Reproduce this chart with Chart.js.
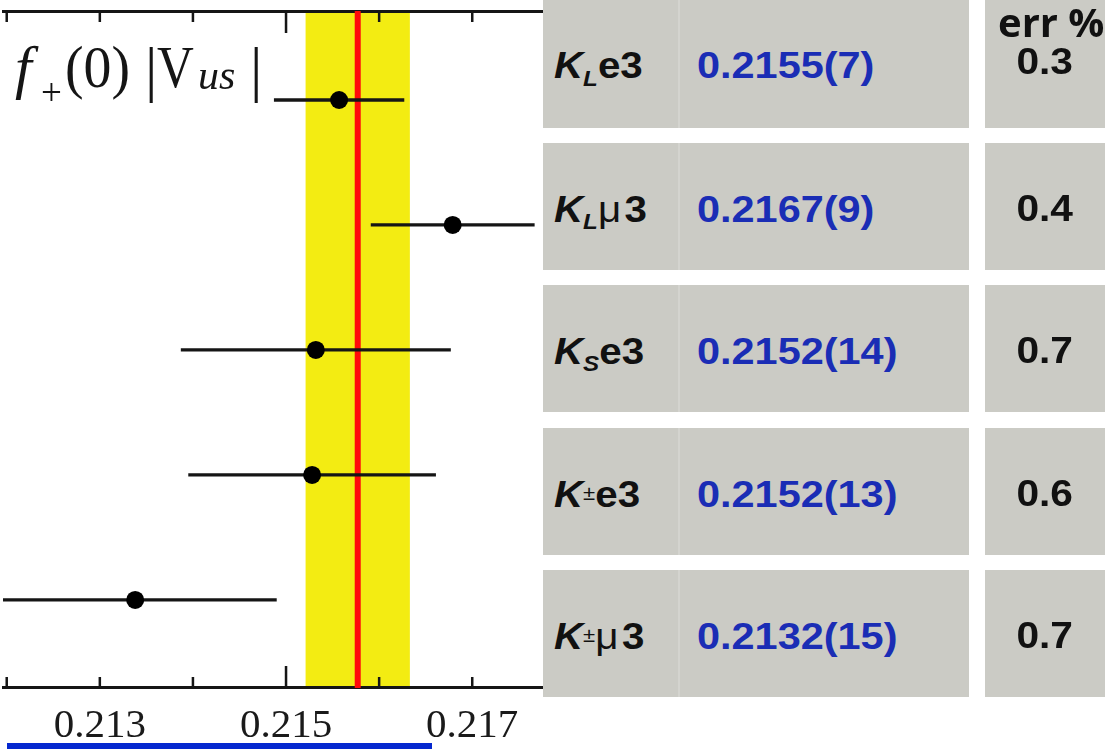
<!DOCTYPE html>
<html>
<head>
<meta charset="utf-8">
<script src="https://cdn.jsdelivr.net/npm/chart.js@4.4.1/dist/chart.umd.min.js"></script>
<style>
html,body{margin:0;padding:0;background:#fff;overflow:hidden;width:1105px;height:749px}
#wrap{position:relative;width:1105px;height:749px;overflow:hidden;background:#fff}
#c{position:absolute;left:0;top:0}
.yl{position:absolute;font-family:'Liberation Serif',serif;line-height:1;color:#151515;white-space:nowrap;transform-origin:left top}
.box{position:absolute;background:#cbcbc5}
.div{position:absolute;background:#d4d4cf;width:2px}
.cell{position:absolute;display:flex;align-items:center;font-family:'Liberation Sans',Arial,sans-serif;font-weight:bold;white-space:nowrap}
.lab{font-size:36px;color:#111;transform:scaleX(1.12);transform-origin:left center;display:inline-block}
.lab .sb{font-size:0.6em;position:relative;top:0.35em;font-style:italic}
.lab .sp{font-size:0.55em;position:relative;top:-0.35em;font-weight:normal}
.lab .mu{font-weight:normal;margin-right:3px}
.val{font-size:37px;color:#1a2db5;transform:scaleX(1.12);transform-origin:left center;display:inline-block}
.err{font-size:37px;color:#111;transform:scaleX(1.1);transform-origin:center center;display:inline-block}
.hdr{position:absolute;left:998px;top:2px;font-family:'Open Sans',sans-serif;font-weight:700;font-size:40px;line-height:1;color:#111;white-space:nowrap}
.uline{position:absolute;left:7px;top:743px;width:425px;height:6px;background:#0528cf}
</style>
</head>
<body>
<div id="wrap">
<canvas id="c" width="545" height="800"></canvas>
<div id="ylab"></div>
<div id="table"></div>
<div class="hdr">err %</div>
<div class="uline"></div>
</div>
<script>
// ---- data ----
const channelSubs   = ['L', 'L', 'S', '', ''];
const channelSups   = ['', '', '', '±', '±'];
const channelTails  = ['e', 'μ', 'e', 'e', 'μ'];
const centralValues = [0.21557, 0.21679, 0.21532, 0.21528, 0.21338];
const halfErrors    = [0.00070, 0.00088, 0.00145, 0.00133, 0.00152];
const rowPositions  = [5, 4, 3, 2, 1];
const averageValue  = 0.21577;
const averageError  = 0.00056;
const tableValues   = ['0.2155(7)', '0.2167(9)', '0.2152(14)', '0.2152(13)', '0.2132(15)'];
const tableErrPct   = ['0.3', '0.4', '0.7', '0.6', '0.7'];
const labeledTicks  = ['0.213', '0.215', '0.217'];
const longTickValue = 0.215;

// ---- axis ranges ----
const xMin = 0.21196, xMax = 0.21776, xStep = 0.001;
const yMin = 0.296, yMax = 5.712;

// ---- y-axis title f+(0)|Vus| as positioned text pieces ----
const titlePieces = [
  {t: 'f', x: 15, base: 87, size: 60, it: true, sx: 1.0},
  {t: '+', x: 41, base: 105, size: 37, it: false, sx: 1.0},
  {t: '(0)', x: 65, base: 87, size: 60, it: false, sx: 0.93},
  {t: '|', x: 145, base: 90, size: 62, it: false, sx: 1.0},
  {t: 'V', x: 157, base: 87, size: 60, it: false, sx: 0.85},
  {t: 'us', x: 198, base: 89, size: 42, it: true, sx: 1.0},
  {t: '|', x: 250, base: 90, size: 62, it: false, sx: 1.0}
];
document.getElementById('ylab').innerHTML = titlePieces.map(p =>
  `<span class="yl" style="left:${p.x}px;top:${(p.base - 0.8375 * p.size).toFixed(1)}px;font-size:${p.size}px;${p.it ? 'font-style:italic;' : ''}transform:scaleX(${p.sx})">${p.t}</span>`
).join('');

// ---- table (text) ----
const rowTops = [0, 143, 285, 428, 570];
const rowHeights = [128, 127, 127, 127, 127];
let html = '';
for (let i = 0; i < tableValues.length; i++) {
  const t = rowTops[i], h = rowHeights[i];
  const off = (i === 0) ? 2 : 3;
  html += `<div class="box" style="left:543px;top:${t}px;width:426px;height:${h}px"></div>`;
  html += `<div class="div" style="left:678px;top:${t}px;height:${h}px"></div>`;
  html += `<div class="box" style="left:985px;top:${t}px;width:120px;height:${h}px"></div>`;
  let lab = '<i>K</i>';
  if (channelSubs[i]) lab += `<span class="sb">${channelSubs[i]}</span>`;
  if (channelSups[i]) lab += `<span class="sp">${channelSups[i]}</span>`;
  lab += channelTails[i] === 'μ' ? '<span class="mu">μ</span>3' : 'e3';
  html += `<div class="cell" style="left:554px;top:${t + off}px;height:${h}px"><span class="lab">${lab}</span></div>`;
  html += `<div class="cell" style="left:697px;top:${t + off}px;height:${h}px"><span class="val">${tableValues[i]}</span></div>`;
  const eoff = (i === 0) ? -2 : 2;
  html += `<div class="cell" style="left:985px;width:120px;justify-content:center;top:${t + eoff}px;height:${h}px"><span class="err">${tableErrPct[i]}</span></div>`;
}
document.getElementById('table').innerHTML = html;

// ---- chart ----
const bandPlugin = {
  id: 'band',
  beforeDraw(chart) {
    const {ctx, chartArea: a, scales: {x}} = chart;
    const x1 = x.getPixelForValue(averageValue - averageError);
    const x2 = x.getPixelForValue(averageValue + averageError);
    ctx.save();
    ctx.fillStyle = '#f3ec12';
    ctx.fillRect(x1, a.top, x2 - x1, a.bottom - a.top);
    ctx.restore();
  }
};
const innerTicks = {
  id: 'innerTicks',
  afterDraw(chart) {
    const {ctx, chartArea: a, scales: {x}} = chart;
    ctx.save();
    ctx.strokeStyle = '#151515';
    ctx.lineWidth = 2.5;
    x.ticks.forEach(t => {
      const px = x.getPixelForValue(t.value);
      const len = Math.abs(t.value - longTickValue) < 1e-7 ? 22 : 11;
      ctx.beginPath();
      ctx.moveTo(px, a.bottom); ctx.lineTo(px, a.bottom - len);
      ctx.moveTo(px, a.top); ctx.lineTo(px, a.top + len);
      ctx.stroke();
    });
    ctx.restore();
  }
};

const datasets = [];
datasets.push({
  data: [{x: averageValue, y: yMin}, {x: averageValue, y: yMax}],
  showLine: true, borderColor: '#ff0a0a', borderWidth: 6, pointRadius: 0, clip: 0, order: 3
});
centralValues.forEach((v, i) => {
  datasets.push({
    data: [{x: v - halfErrors[i], y: rowPositions[i]}, {x: v + halfErrors[i], y: rowPositions[i]}],
    showLine: true, borderColor: '#151515', borderWidth: 3.3, pointRadius: 0, clip: 0, order: 2
  });
});
datasets.push({
  data: centralValues.map((v, i) => ({x: v, y: rowPositions[i]})),
  backgroundColor: '#000', borderColor: '#000', pointRadius: 9, borderWidth: 0, clip: 0, order: 1
});

new Chart(document.getElementById('c'), {
  type: 'scatter',
  data: {datasets},
  plugins: [bandPlugin, innerTicks],
  options: {
    responsive: false,
    animation: false,
    events: [],
    layout: {autoPadding: false, padding: {left: 3, right: 2, top: 11, bottom: 35}},
    plugins: {legend: {display: false}, tooltip: {enabled: false}},
    scales: {
      x: {
        type: 'linear', position: 'bottom', min: xMin, max: xMax, z: 1,
        grid: {drawOnChartArea: false, drawTicks: false},
        border: {display: true, color: '#151515', width: 3},
        ticks: {
          stepSize: xStep, includeBounds: false, autoSkip: false, maxRotation: 0, padding: 0,
          color: '#1a1a1a', font: {family: "'Liberation Serif', serif", size: 41, lineHeight: 1.88},
          callback: v => { const s = Number(v).toFixed(3); return labeledTicks.includes(s) ? s : ''; }
        }
      },
      x2: {
        type: 'linear', position: 'top', min: xMin, max: xMax, z: 1,
        grid: {drawOnChartArea: false, drawTicks: false},
        border: {display: true, color: '#151515', width: 3},
        ticks: {display: false}
      },
      y: {type: 'linear', min: yMin, max: yMax, display: false}
    }
  }
});
</script>
</body>
</html>
